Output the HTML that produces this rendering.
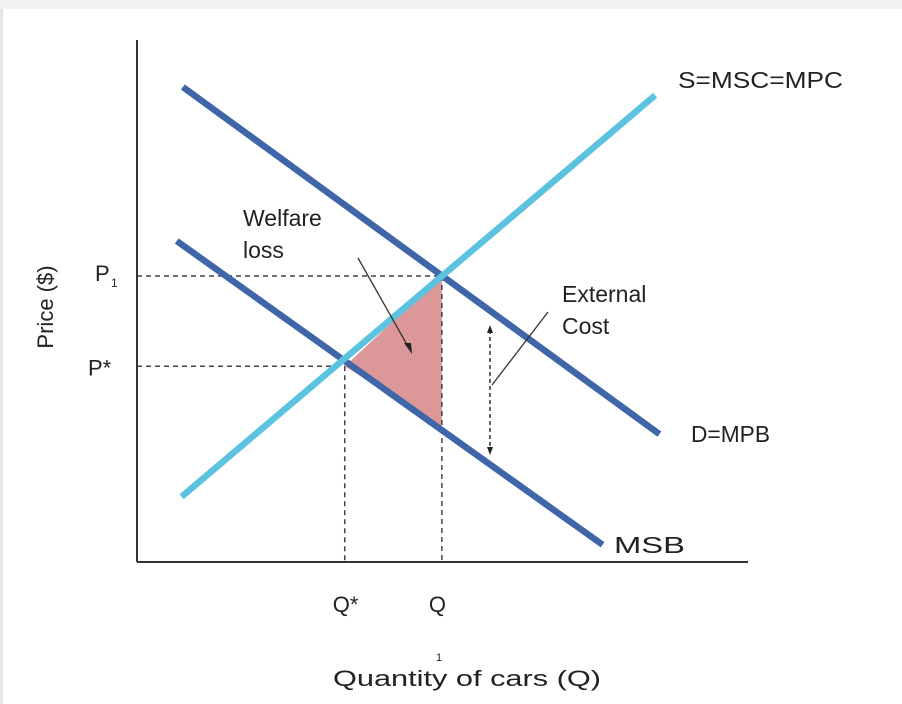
<!DOCTYPE html>
<html><head><meta charset="utf-8"><style>
html,body{margin:0;padding:0;background:#fff;}
svg{display:block;font-family:"Liberation Sans",Arial,sans-serif;}
</style></head><body>
<svg id="c" width="902" height="704" viewBox="0 0 902 704">
<rect x="0" y="0" width="902" height="9" fill="#f1f1f1"/>
<rect x="0" y="9" width="3" height="695" fill="#e6e6e6"/>
<g id="g"></g>
</svg>
<script>
// data units: x 0..100 quantity, y 0..100 price
const curveNames = ["D=MPB","MSB","S=MSC=MPC"];
const curveX0 = [7.5, 6.5, 7.3];
const curveY0 = [91, 61.5, 12.5];
const curveX1 = [85.5, 76.2, 84.8];
const curveY1 = [24.5, 3.3, 89.4];
const qStar = 34.0, qOne = 49.9, pStar = 37.5, pOne = 54.8, pLow = 26;
const xTickLabels = ["Q*","Q"];
const yTickLabels = ["P*","P"];

const X0=137, X1=748, Y0=562, Y1=40;
const sx = v => X0 + v/100*(X1-X0);
const sy = v => Y0 - v/100*(Y0-Y1);
const NS="http://www.w3.org/2000/svg";
const g=document.getElementById('g');
function mk(t,a,txt){const e=document.createElementNS(NS,t);for(const k in a)e.setAttribute(k,a[k]);if(txt!==undefined)e.textContent=txt;g.appendChild(e);return e;}

let tri=mk('polygon',{points:`${sx(qStar)},${sy(pStar)} ${sx(qOne)},${sy(pOne)} ${sx(qOne)},${sy(pLow)}`,fill:'#dc9898'});



let d1=mk('line',{x1:X0,y1:sy(pOne),x2:sx(qOne),y2:sy(pOne),stroke:'#444','stroke-width':1.5,'stroke-dasharray':'5,4'});


let d2=mk('line',{x1:X0,y1:sy(pStar),x2:sx(qStar),y2:sy(pStar),stroke:'#444','stroke-width':1.5,'stroke-dasharray':'5,4'});


let d3=mk('line',{x1:sx(qStar),y1:sy(pStar),x2:sx(qStar),y2:Y0,stroke:'#444','stroke-width':1.5,'stroke-dasharray':'5,4'});


let d4=mk('line',{x1:sx(qOne),y1:sy(pOne),x2:sx(qOne),y2:Y0,stroke:'#444','stroke-width':1.5,'stroke-dasharray':'5,4'});



const cols=['#3e66a8','#3e66a8','#5bc3e0'];
const lx=[691,614,678], ly=[442,553,88];
for(let i=0;i<curveNames.length;i++){
  let l=mk('line',{x1:sx(curveX0[i]),y1:sy(curveY0[i]),x2:sx(curveX1[i]),y2:sy(curveY1[i]),stroke:cols[i],'stroke-width':6.5});
  
  
  let t=mk('text',{x:lx[i],y:ly[i],'font-size':23,fill:'#222',textLength:[79,71,165][i],lengthAdjust:'spacingAndGlyphs'},curveNames[i]);
  
  
}

let ay=mk('line',{x1:X0,y1:Y1,x2:X0,y2:Y0,stroke:'#333','stroke-width':2});


let ax=mk('line',{x1:X0,y1:Y0,x2:X1,y2:Y0,stroke:'#333','stroke-width':2});



let t1=mk('text',{x:sx(qStar)-12,y:612,'font-size':22,fill:'#222'},xTickLabels[0]);


let t2=mk('text',{x:sx(qOne)-13,y:612,'font-size':22,fill:'#222'},xTickLabels[1]);


let t3=mk('text',{x:88,y:sy(pStar)+9,'font-size':22,fill:'#222'},yTickLabels[0]);


let t4=mk('text',{x:95,y:sy(pOne)+5,'font-size':22,fill:'#222'},yTickLabels[1]);


let t5=mk('text',{x:111,y:sy(pOne)+11,'font-size':12,fill:'#222'},'1');



let xt=mk('text',{x:333,y:686,'font-size':22,fill:'#222',textLength:268,lengthAdjust:'spacingAndGlyphs'},'Quantity of cars (Q)');


let xs=mk('text',{x:436,y:661,'font-size':11,fill:'#222'},'1');


let yt=mk('text',{x:0,y:0,'font-size':22,fill:'#222','text-anchor':'middle',transform:'translate(53,307) rotate(-90)'},'Price ($)');



let w1=mk('text',{x:243,y:226,'font-size':23,fill:'#222'},'Welfare');


let w2=mk('text',{x:243,y:258,'font-size':23,fill:'#222'},'loss');


let wa=mk('line',{x1:358,y1:258,x2:410,y2:350,stroke:'#333','stroke-width':1.3});


let wh=mk('polygon',{points:'412,354 404,343 411,343',fill:'#222'});


let e1=mk('text',{x:562,y:302,'font-size':23,fill:'#222'},'External');


let e2=mk('text',{x:562,y:334,'font-size':23,fill:'#222'},'Cost');


let ec=mk('line',{x1:490,y1:330,x2:490,y2:450,stroke:'#333','stroke-width':1.5,'stroke-dasharray':'4,3'});


let eh1=mk('polygon',{points:'490,325 487,333 493,333',fill:'#222'});


let eh2=mk('polygon',{points:'490,455 487,447 493,447',fill:'#222'});


let el=mk('polyline',{points:'492,385 548,312',fill:'none',stroke:'#333','stroke-width':1.3});


</script>
</body></html>
